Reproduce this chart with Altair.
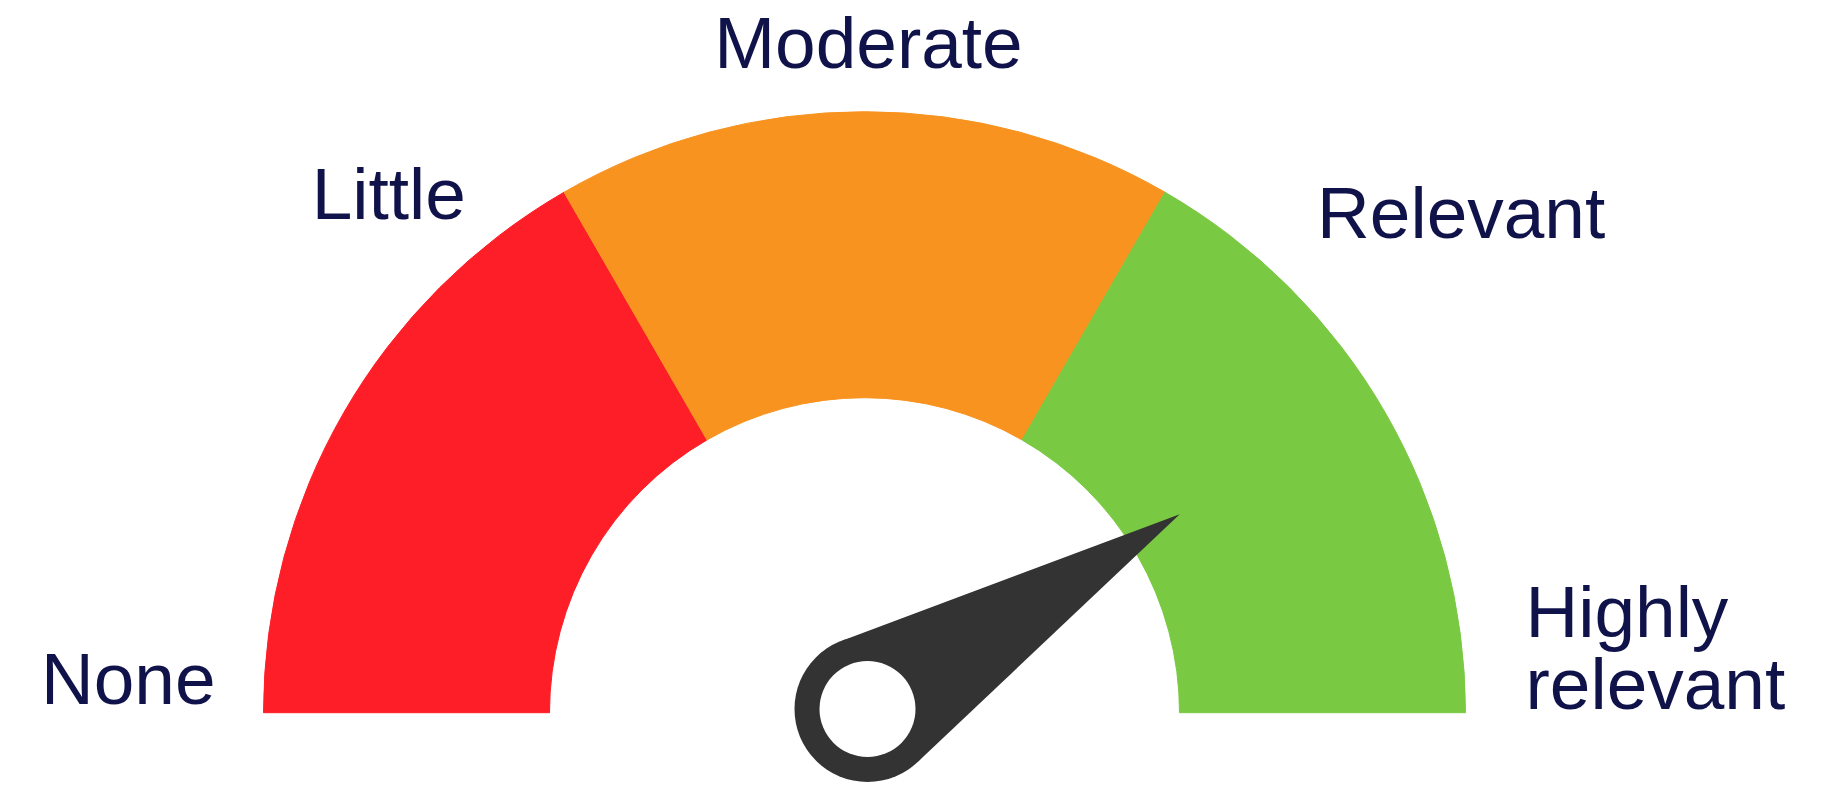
import math
import altair as alt
import pandas as pd

# ---- data ----
segments = ["Low", "Medium", "High"]
segment_spans = [1, 1, 1]
segment_colors = ["#FE1E27", "#F8931F", "#7AC943"]

labels = ["None", "Little", "Moderate", "Relevant", "Highly relevant"]
label_levels = [0, 1, 2, 3, 4]

needle_value = [3.29]

# ---- layout / style ----
W, H = 1828, 777
CX, CY = 856.5, 704.7
R_OUT, R_IN = 601, 315
PIV_X, PIV_Y = 859.5, 701
NEEDLE_LEN = 368
HUB_R, HOLE_R = 73, 48
LABEL_R = 650
TXT = "#10124A"
FONT = "Liberation Sans"
NEEDLE_COLOR = "#333333"
HALF = [1.5 * math.pi, 2.5 * math.pi]

seg_df = pd.DataFrame({"segment": segments, "span": segment_spans, "order": list(range(len(segments)))})
lab_df = pd.DataFrame({"label": labels, "level": label_levels})
needle_df = pd.DataFrame({"value": needle_value})

seg_scale = alt.Scale(domain=segments, range=segment_colors)

arcs = alt.Chart(seg_df).mark_arc(
    innerRadius=R_IN, outerRadius=R_OUT, strokeWidth=1
).encode(
    theta=alt.Theta("span:Q", stack=True,
                    scale=alt.Scale(domain=[0, sum(segment_spans)], range=HALF)),
    color=alt.Color("segment:N", scale=seg_scale, legend=None),
    stroke=alt.Stroke("segment:N", scale=seg_scale, legend=None),
    order=alt.Order("order:Q"),
    x=alt.value(CX),
    y=alt.value(CY),
)

# needle: triangle tangent to the hub circle, pointing left at angle 0
c = HUB_R / NEEDLE_LEN
tx = -c * c
ty = c * math.sqrt(1 - c * c)
needle_path = f"M -1 0 L {tx:.4f} {-ty:.4f} L {tx:.4f} {ty:.4f} Z"

needle = alt.Chart(needle_df).mark_point(
    shape=needle_path, filled=True, color=NEEDLE_COLOR, opacity=1,
    size=(2 * NEEDLE_LEN) ** 2, strokeWidth=0
).encode(
    x=alt.value(PIV_X),
    y=alt.value(PIV_Y),
    angle=alt.Angle("value:Q", scale=alt.Scale(domain=[0, 4], range=[0, 180])),
)

hub = alt.Chart(needle_df).mark_point(
    shape="circle", filled=True, color=NEEDLE_COLOR, opacity=1,
    size=(2 * HUB_R) ** 2, strokeWidth=0
).encode(x=alt.value(PIV_X), y=alt.value(PIV_Y))

hole = alt.Chart(needle_df).mark_point(
    shape="circle", filled=True, color="#FFFFFF", opacity=1,
    size=(2 * HOLE_R) ** 2, strokeWidth=0
).encode(x=alt.value(PIV_X), y=alt.value(PIV_Y))

label_styles = {
    "None": dict(align="right", dx=1, dy=-9),
    "Little": dict(align="right", dx=61, dy=-34),
    "Moderate": dict(align="center", dx=4, dy=5),
    "Relevant": dict(align="left", dx=-7, dy=-15),
    "Highly relevant": dict(align="left", dx=11, dy=-76, lineBreak=" ", lineHeight=72),
}

texts = []
for name in labels:
    st = label_styles[name]
    t = alt.Chart(lab_df).transform_filter(
        alt.datum.label == name
    ).mark_text(
        font=FONT, fontSize=73, color=TXT, baseline="alphabetic",
        radius=LABEL_R, **st
    ).encode(
        theta=alt.Theta("level:Q", scale=alt.Scale(domain=[0, 4], range=HALF)),
        text="label:N",
        x=alt.value(CX),
        y=alt.value(CY),
    )
    texts.append(t)

chart = alt.layer(arcs, needle, hub, hole, *texts).resolve_scale(
    theta="independent"
).properties(
    width=W, height=H,
    autosize=alt.AutoSizeParams(type="none"),
    padding=0,
    background="#FFFFFF",
).configure_view(strokeWidth=0)

chart.save("out.html", embed_options={"renderer": "svg", "actions": False})
